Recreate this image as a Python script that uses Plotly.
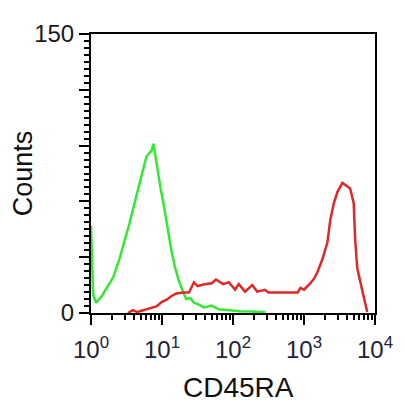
import plotly.graph_objects as go

# Data: histogram outlines (log10 of CD45RA intensity, counts)
green_log = [0.0, 0.01, 0.03, 0.07, 0.15, 0.23, 0.31, 0.40, 0.47, 0.54, 0.62, 0.71, 0.78, 0.82,
             0.85, 0.88, 0.93, 0.98, 1.03, 1.08, 1.13, 1.18, 1.24, 1.30, 1.34, 1.40, 1.45, 1.52,
             1.59, 1.65, 1.70, 1.80, 1.94, 2.10, 2.25, 2.40, 2.45]
green_counts = [47, 30, 10, 5.5, 9, 14, 19, 29, 38, 48, 60, 73, 84, 86,
                87, 91, 78, 67, 57, 45, 34, 25, 17, 11, 7.5, 8, 5.5, 4.5,
                3, 3.5, 4, 2, 1.5, 1, 0.8, 0.5, 0.5]

red_log = [0.52, 0.59, 0.65, 0.73, 0.85, 0.92, 1.00, 1.06, 1.13, 1.20, 1.30, 1.38, 1.45, 1.50,
           1.60, 1.70, 1.76, 1.86, 1.94, 2.03, 2.08, 2.17, 2.27, 2.34, 2.45, 2.50, 2.60, 2.75,
           2.91, 2.95, 3.00, 3.09, 3.15, 3.19, 3.26, 3.33, 3.37, 3.42, 3.47, 3.54, 3.58, 3.65,
           3.70, 3.72, 3.75, 3.82, 3.85, 3.89]
red_counts = [0, 1.5, 0.5, 1.5, 3, 3.5, 6, 7, 9, 10.5, 11, 11, 16.5, 14.5,
              15.5, 16, 18, 15.5, 16.5, 12.5, 15.5, 11.5, 15, 11.5, 12.5, 11, 11, 11,
              11, 13.5, 12.5, 16, 19, 22, 29, 38, 50, 59, 65, 70, 69, 67,
              59, 40, 24, 12, 7, 0.5]

x_tick_vals = [1, 10, 100, 1000, 10000]
x_tick_text = ["10<sup>0</sup>", "10<sup>1</sup>", "10<sup>2</sup>", "10<sup>3</sup>", "10<sup>4</sup>"]
y_tick_vals = [0, 30, 60, 90, 120, 150]
y_tick_text = ["0", "", "", "", "", "150"]

x_minor = [m * 10 ** d for d in range(4) for m in range(2, 10)]

fig = go.Figure()
fig.add_trace(go.Scatter(x=[10 ** v for v in green_log], y=green_counts, mode="lines",
                         line=dict(color="#33ea33", width=2.5), showlegend=False))
fig.add_trace(go.Scatter(x=[10 ** v for v in red_log], y=red_counts, mode="lines",
                         line=dict(color="#e02828", width=2.5), showlegend=False))

# page body adds an 8px offset; figure sized to fit the window
fig.update_layout(
    width=397, height=399,
    margin=dict(l=83, r=27, t=17, b=94),
    paper_bgcolor="white", plot_bgcolor="white",
    font=dict(family="Liberation Sans, Arial, sans-serif", color="#222"),
    xaxis=dict(type="log", range=[0, 4], tickmode="array", tickvals=x_tick_vals, ticktext=x_tick_text,
               showgrid=False, zeroline=False, showline=True, linecolor="black", linewidth=2,
               mirror=True, ticks="outside", ticklen=10, tickwidth=2, tickcolor="black",
               ticklabelstandoff=4,
               tickfont=dict(size=24, color="#22223a"),
               minor=dict(tickmode="array", tickvals=x_minor, ticks="outside", ticklen=5,
                          tickwidth=2, tickcolor="black", showgrid=False)),
    yaxis=dict(range=[0, 150], tickmode="array", tickvals=y_tick_vals, ticktext=y_tick_text,
               showgrid=False, zeroline=False, showline=True, linecolor="black", linewidth=2,
               mirror=True, ticks="outside", ticklen=10, tickwidth=2, tickcolor="black",
               tickfont=dict(size=24, color="#1a1a1a"),
               minor=dict(tickmode="linear", tick0=0, dtick=3.75, ticks="outside", ticklen=5,
                          tickwidth=2, tickcolor="black", showgrid=False)),
    annotations=[
        dict(text="Counts", xref="paper", yref="paper", x=(22 - 91) / 287, y=0.5,
             showarrow=False, textangle=-90, font=dict(size=27, color="#111"),
             xanchor="center", yanchor="middle"),
        dict(text="CD45RA", xref="paper", yref="paper", x=(240 - 91) / 287, y=-(390 - 313) / 288,
             showarrow=False, font=dict(size=28, color="#111"),
             xanchor="center", yanchor="middle"),
    ],
)

fig.write_html("out.html")
